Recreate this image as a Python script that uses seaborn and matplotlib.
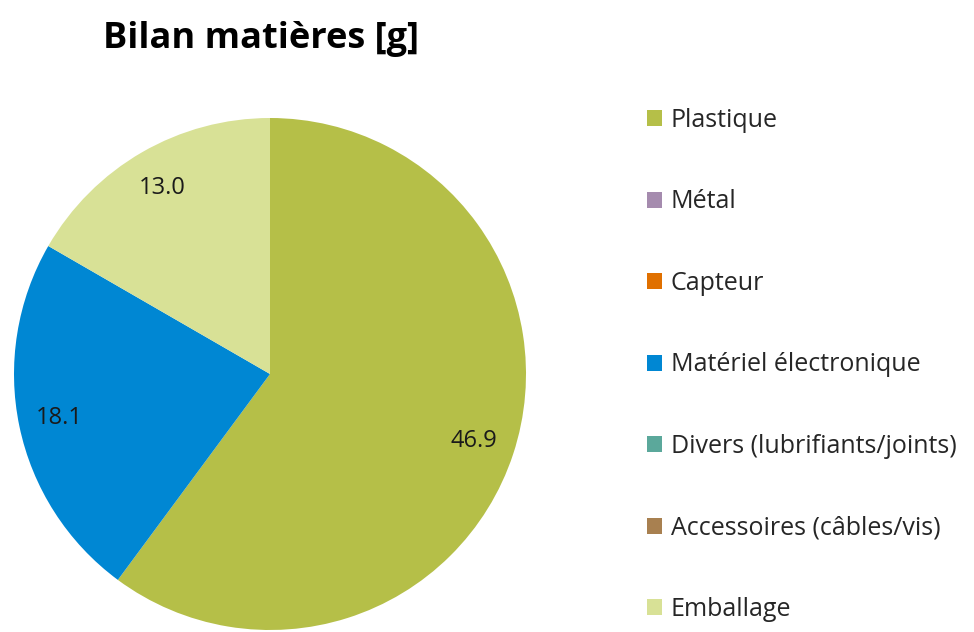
import matplotlib
matplotlib.use("Agg")
import matplotlib.pyplot as plt
import seaborn as sns

# Data
categories = ["Plastique", "Métal", "Capteur", "Matériel électronique",
              "Divers (lubrifiants/joints)", "Accessoires (câbles/vis)", "Emballage"]
values = [46.9, 0.0, 0.0, 18.1, 0.0, 0.0, 13.0]
colors = ["#B5BF48", "#A58BAE", "#E07000", "#0087D3", "#5BA89B", "#A88050", "#D8E196"]

sns.set_theme(style="white")
plt.rcParams["font.family"] = ["Open Sans", "DejaVu Sans"]

total = sum(values)

def fmt(pct):
    v = pct * total / 100
    return "" if v < 0.05 else f"{v:.1f}"

fig = plt.figure(figsize=(9.74, 6.32), dpi=100)
r = 256
cx, cy = 270, 374
ax = fig.add_axes([(cx - r) / 974, (632 - cy - r) / 632, 2 * r / 974, 2 * r / 632])

wedges, _, autotexts = ax.pie(values, colors=colors, startangle=90, counterclock=False,
                              autopct=fmt, pctdistance=0.84,
                              wedgeprops={"linewidth": 0},
                              textprops={"fontsize": 17, "color": "#1a1a1a"})
ax.set_xlim(-1, 1)
ax.set_ylim(-1, 1)
ax.set_aspect("equal")

fig.text(261 / 974, 1 - 39 / 632, "Bilan matières [g]", ha="center", va="center",
         fontsize=26, fontweight="bold", color="black")

fig.legend(wedges, categories, loc="upper left", bbox_to_anchor=(647 / 974, 1 - 108 / 632),
           frameon=False, fontsize=18, handlelength=0.6, handleheight=0.6,
           handletextpad=0.35, labelspacing=2.26, borderpad=0, borderaxespad=0)

fig.savefig("out.png", dpi=100, facecolor="white")
